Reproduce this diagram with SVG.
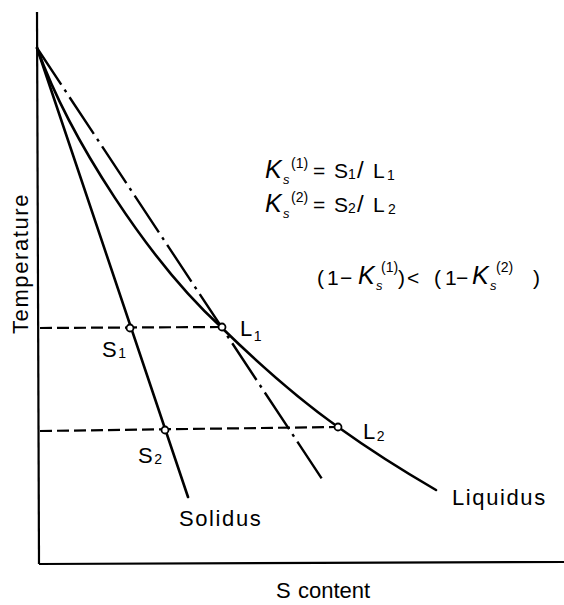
<svg xmlns="http://www.w3.org/2000/svg" width="564" height="605" viewBox="0 0 564 605">
<style>
.ax{stroke:#000;stroke-width:2.2;fill:none}
.ln{stroke:#000;stroke-width:2.6;fill:none;stroke-linecap:round}
.dd{stroke:#000;stroke-width:2.4;fill:none;stroke-dasharray:44 6 3 6}
.dh{stroke:#000;stroke-width:2.2;fill:none;stroke-dasharray:12 5}
.pt{stroke:#000;stroke-width:1.8;fill:#fff}
text{font-family:"Liberation Sans",Arial,sans-serif;fill:#000}
.lb{font-size:22px;letter-spacing:1.6px}
.ax-t{font-size:22px}
.eq{font-size:21px}
.sl{font-size:24px}
.k{font-size:25px;font-style:italic}
.sm{font-size:14px}
.si{font-size:13px;font-style:italic}
</style>
<rect width="564" height="605" fill="#fff"/>
<g id="axes">
<line class="ax" x1="37" y1="12" x2="39" y2="564"/>
<line class="ax" x1="39" y1="564" x2="564" y2="562"/>
</g>
<g id="connectors">
<path id="solidus-line" class="ln" d="M37,48 L188,497"/>
<path id="liquidus-line" class="ln" d="M37,48 C70,140 150,262 221,327 C262,367 300,400 338,427 C370,450 405,472 436,490"/>
<path id="tangent-line" class="dd" d="M37,48 L322,479"/>
<path id="tie1" class="dh" d="M40,328 L219,327"/>
<path id="tie2" class="dh" d="M40,431 L335,427"/>
</g>
<g id="node-S1"><circle class="pt" cx="130" cy="328" r="3.5"/><text class="lb" x="102" y="357">S<tspan class="sm" dy="1">1</tspan></text></g>
<g id="node-L1"><circle class="pt" cx="222" cy="327" r="3.5"/><text class="lb" x="240" y="336">L<tspan class="sm" dy="5">1</tspan></text></g>
<g id="node-S2"><circle class="pt" cx="165" cy="430" r="3.5"/><text class="lb" x="138" y="463">S<tspan class="sm" dy="1">2</tspan></text></g>
<g id="node-L2"><circle class="pt" cx="338" cy="427" r="3.5"/><text class="lb" x="363" y="439">L<tspan class="sm" dy="2">2</tspan></text></g>
<g id="labels">
<text class="lb" x="179" y="526">Solidus</text>
<text class="lb" x="452" y="505">Liquidus</text>
<text class="ax-t" x="276" y="598">S</text>
<text class="ax-t" x="298" y="598">content</text>
<text class="lb" transform="translate(28,334) rotate(-90)">Temperature</text>
</g>
<g id="equations">
<text><tspan class="k" x="265" y="178">K</tspan><tspan class="si" x="283" y="184">s</tspan><tspan class="sm" x="291" y="168">(1)</tspan><tspan class="eq" x="313" y="178">=</tspan><tspan class="eq" x="334" y="178">S</tspan><tspan class="sm" x="348" y="179">1</tspan><tspan class="sl" x="357" y="178">/</tspan><tspan class="eq" x="373" y="178">L</tspan><tspan class="sm" x="387" y="180">1</tspan></text>
<text><tspan class="k" x="265" y="212">K</tspan><tspan class="si" x="283" y="218">s</tspan><tspan class="sm" x="291" y="202">(2)</tspan><tspan class="eq" x="313" y="212">=</tspan><tspan class="eq" x="334" y="212">S</tspan><tspan class="sm" x="348" y="213">2</tspan><tspan class="sl" x="357" y="212">/</tspan><tspan class="eq" x="373" y="212">L</tspan><tspan class="sm" x="388" y="214">2</tspan></text>
<text><tspan class="eq" x="317" y="285">(</tspan><tspan class="eq" x="327" y="285">1</tspan><tspan class="eq" x="340" y="285">−</tspan><tspan class="k" x="358" y="284">K</tspan><tspan class="si" x="376" y="290">s</tspan><tspan class="sm" x="381" y="272">(1)</tspan><tspan class="eq" x="398" y="285">)</tspan><tspan class="eq" x="407" y="285">&lt;</tspan><tspan class="eq" x="434" y="285">(</tspan><tspan class="eq" x="445" y="285">1</tspan><tspan class="eq" x="456" y="285">−</tspan><tspan class="k" x="472" y="284">K</tspan><tspan class="si" x="490" y="290">s</tspan><tspan class="sm" x="496" y="272">(2)</tspan><tspan class="eq" x="533" y="285">)</tspan></text>
</g>
</svg>
